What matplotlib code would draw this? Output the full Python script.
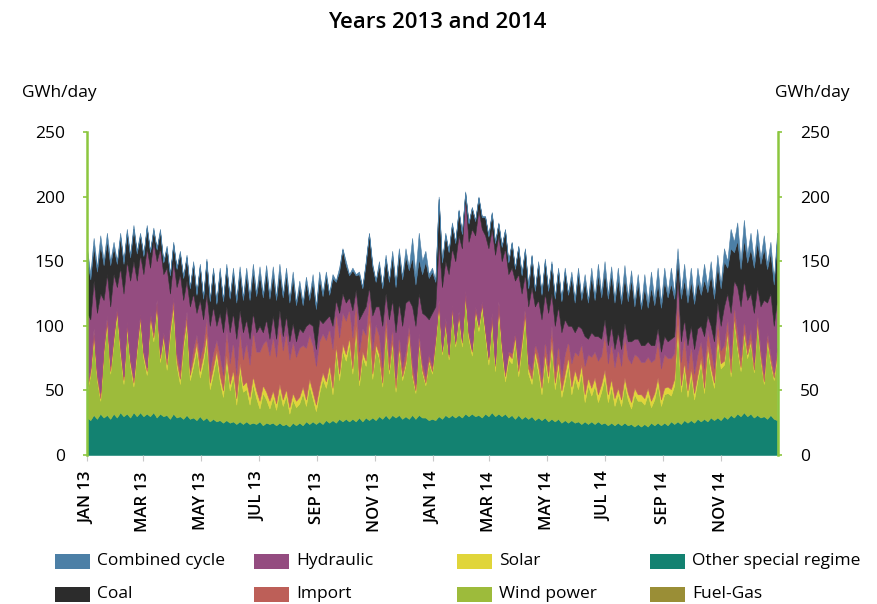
import matplotlib
matplotlib.use("Agg")
import matplotlib.pyplot as plt
import matplotlib.dates as mdates
from matplotlib.patches import Rectangle
from matplotlib.ticker import FuncFormatter
import numpy as np
import pandas as pd

# ---------------- data (GWh/day, two readings per week, Jan 2013 - Dec 2014) -------------
other_special = [
    29,27,31,28,32,29,31,28, 32,29,33,30,32,29,33,30, 33,30,32,30,33,29,32,30,
    31,28,32,29,30,28,31,28, 29,27,30,27,29,26,28,26, 27,25,27,25,26,24,26,24,
    26,24,25,24,26,23,25,24, 25,23,25,23,24,22,25,23, 25,23,26,24,26,24,26,24,
    27,25,27,25,28,26,28,26, 28,26,29,26,29,27,29,27, 30,28,31,28,31,29,31,28,
    30,28,31,28,31,29,29,27, 28,27,30,28,31,29,31,29, 31,29,32,30,32,30,31,29,
    32,30,33,30,32,30,32,29, 31,28,31,28,30,28,30,27, 29,27,29,26,28,26,28,25,
    27,25,27,25,26,24,26,24, 26,24,26,24,25,23,25,23, 25,23,25,23,24,22,24,22,
    24,22,25,23,25,23,25,23, 26,24,26,24,27,25,27,25, 28,26,28,26,29,27,29,27,
    30,28,31,29,32,30,33,30, 32,29,31,29,30,28,31,28, 27]
wind = [
    20,35,60,30,10,50,70,35, 55,80,45,25,65,40,20,50, 70,45,30,75,55,85,40,60,
    35,65,80,40,25,55,70,30, 40,55,30,45,60,25,35,50, 30,20,45,25,35,15,40,25,
    25,15,30,20,10,25,18,12, 20,12,25,15,22,10,18,14, 15,25,12,30,18,10,22,35,
    25,40,20,55,30,55,45,60, 35,70,25,50,40,75,30,55, 45,25,65,35,55,20,50,30,
    40,65,30,20,55,35,25,45, 35,60,85,50,70,45,80,55, 75,55,90,60,45,80,65,85,
    60,40,70,35,80,50,25,45, 40,60,30,55,75,35,25,50, 35,20,45,30,55,25,40,20,
    30,45,20,35,25,40,15,30, 20,30,15,25,35,18,28,15, 22,15,30,20,12,25,18,20,
    15,25,12,20,30,15,22,25, 20,30,70,25,40,20,35,18, 30,45,20,55,35,25,60,40,
    40,65,30,75,50,35,60,45, 55,35,70,45,25,60,40,30, 50]
solar = [
    2,2,2,2,2,2,2,2, 3,3,3,3,3,3,3,3, 3,3,3,3,3,3,3,3,
    4,4,4,4,4,4,4,4, 5,5,5,5,5,5,5,5, 5,5,5,5,5,5,5,5,
    6,6,6,6,6,6,6,6, 5,5,5,5,5,5,5,5, 5,5,5,5,5,5,5,5,
    5,5,5,5,5,5,5,5, 4,4,4,4,4,4,4,4, 3,3,3,3,3,3,3,3,
    2,2,2,2,2,2,2,2, 2,2,2,2,2,2,2,2, 3,3,3,3,3,3,3,3,
    4,4,4,4,4,4,4,4, 4,4,4,4,4,4,4,4, 5,5,5,5,5,5,5,5,
    6,6,6,6,6,6,6,6, 6,6,6,6,6,6,6,6, 5,5,5,5,5,5,5,5,
    5,5,5,5,5,5,5,5, 5,5,5,5,5,5,5,5, 4,4,4,4,4,4,4,4,
    3,3,3,3,3,3,3,3, 2,2,2,2,2,2,2,2, 2]
imports = [
    4,3,5,3,4,3,5,4, 3,2,4,3,3,2,4,3, 3,2,3,2,4,3,3,2,
    5,4,6,5,7,5,6,4, 8,6,10,8,12,9,11,8, 15,12,20,16,22,18,25,20,
    30,25,35,30,38,32,40,35, 42,36,45,38,44,37,40,34, 38,32,40,34,36,30,35,30,
    32,28,30,26,28,24,26,22, 24,20,22,18,20,16,18,15, 14,12,12,10,10,8,9,7,
    8,6,7,5,6,5,5,4, 4,3,3,2,3,2,3,2, 2,2,2,2,2,2,2,2,
    2,2,3,2,3,2,3,2, 4,3,5,4,6,4,7,5, 9,7,10,8,12,9,13,10,
    15,12,18,14,20,16,22,18, 24,20,26,22,28,24,28,24, 30,26,32,27,30,26,29,25,
    28,24,30,26,28,24,26,22, 24,20,22,18,20,16,18,15, 16,13,15,12,14,11,13,10,
    12,10,11,9,10,8,9,7, 8,6,7,5,6,5,5,4, 4]
hydraulic = [
    55,38,37,47,77,36,32,46, 47,16,60,64,47,61,90,49, 46,60,92,35,70,30,82,45,
    70,24,28,52,74,28,24,49, 43,17,45,20,19,35,36,11, 33,33,18,24,22,28,16,21,
    18,20,14,15,20,9,16,13, 16,14,12,11,13,14,14,12, 15,10,17,9,15,13,17,8,
    16,10,18,9,19,15,14,9, 21,8,25,12,22,8,27,14, 23,32,14,29,21,35,25,32,
    38,19,45,45,31,39,47,27, 41,23,45,48,44,62,44,62, 59,71,73,70,93,55,89,56,
    72,84,65,84,51,64,96,60, 66,40,70,34,25,44,64,29, 42,46,36,41,25,35,29,35,
    27,12,29,15,23,12,23,12, 19,12,19,13,11,14,13,14, 13,13,10,13,17,12,14,13,
    13,12,13,11,10,13,14,13, 15,13,17,16,13,19,15,19, 20,12,25,11,18,21,12,19,
    30,19,35,19,35,39,30,35, 28,38,20,34,57,23,47,36, 37]
coal = [
    42,31,27,32,38,27,26,32, 21,18,24,23,22,18,25,21, 15,14,16,12,9,9,13,9,
    15,14,13,14,16,17,18,14, 23,14,26,16,25,19,28,17, 32,24,30,26,31,28,30,25,
    35,30,32,28,40,27,37,31, 32,30,30,30,32,30,35,28, 33,21,34,18,35,31,32,21,
    34,16,37,14,32,34,29,17, 31,11,35,19,33,41,38,19, 32,29,27,29,34,35,38,36,
    36,23,38,32,27,30,42,32, 32,19,33,19,20,17,18,14, 19,11,3,14,16,11,9,9,
    14,9,12,9,9,11,14,9, 19,9,21,14,19,14,24,12, 28,19,25,17,23,21,28,24,
    37,24,38,23,41,22,43,28, 44,28,48,32,37,36,40,36, 42,35,36,31,48,25,44,28,
    45,26,45,31,35,34,43,34, 43,29,12,33,31,33,35,35, 37,24,44,18,40,33,29,29,
    35,20,50,22,36,29,32,29, 35,35,35,33,40,26,32,32, 47]
combined_cycle = [
    8,4,6,3,7,3,6,3, 4,2,3,2,3,2,3,2, 2,1,2,1,2,1,2,1,
    2,1,2,1,2,1,2,1, 2,1,2,1,2,1,2,1, 3,1,3,1,4,2,4,2,
    5,2,6,2,6,2,5,2, 6,2,6,2,5,2,5,2, 4,2,4,2,5,2,5,2,
    3,1,3,1,3,1,3,1, 2,1,2,1,2,1,2,1, 3,1,3,1,4,2,4,2,
    6,2,15,8,20,10,8,3, 3,1,2,1,2,1,2,1, 1,1,1,1,1,1,1,1,
    1,1,1,1,1,1,1,1, 1,1,1,1,1,1,1,1, 2,1,2,1,2,1,2,1,
    3,1,4,2,4,2,5,2, 6,2,8,3,8,3,6,2, 8,3,9,3,7,3,6,2,
    10,4,12,4,12,4,10,3, 12,4,8,4,12,4,10,3, 10,4,12,4,10,4,8,3,
    10,5,15,8,14,6,15,6, 12,5,10,4,10,4,8,3, 5]

legend_labels = ["Combined cycle", "Coal", "Hydraulic", "Import",
                 "Solar", "Wind power", "Other special regime", "Fuel-Gas"]
tick_months = [1, 3, 5, 7, 9, 11]
y_ticks = [0, 50, 100, 150, 200, 250]

# ---------------- style ----------------
FONT = "Open Sans"
plt.rcParams["font.family"] = [FONT, "DejaVu Sans"]
col = {
    "Combined cycle": "#4c7fa6",
    "Coal": "#2c2c2c",
    "Hydraulic": "#944c80",
    "Import": "#bd5f58",
    "Solar": "#e0d53a",
    "Wind power": "#9dbb3b",
    "Other special regime": "#138271",
    "Fuel-Gas": "#9a8e36",
}
green_axis = "#8cc63f"

W, H = 877, 604
fig = plt.figure(figsize=(W / 100, H / 100), dpi=100)
ax = fig.add_axes([87 / W, 1 - 455 / H, (778 - 87) / W, (455 - 132) / H])

dates = pd.Timestamp("2013-01-01") + pd.to_timedelta(np.arange(len(wind)) * 3.5, unit="D")
series = [other_special, wind, solar, imports, hydraulic, coal, combined_cycle]
names = ["Other special regime", "Wind power", "Solar", "Import",
         "Hydraulic", "Coal", "Combined cycle"]
polys = ax.stackplot(dates, *series, colors=[col[n] for n in names])
for p, n in zip(polys, names):
    p.set_edgecolor(col[n])
    p.set_linewidth(0.4)

ax.set_xlim(pd.Timestamp("2013-01-01"), pd.Timestamp("2014-12-31"))
ax.set_ylim(0, 250)

ax.xaxis.set_major_locator(mdates.MonthLocator(bymonth=tick_months))
ax.xaxis.set_major_formatter(FuncFormatter(
    lambda v, pos: mdates.num2date(v).strftime("%b %y").upper()))
ax.tick_params(axis="x", length=4, width=0.8, color="#c8c8c8", pad=8,
               labelsize=12, labelrotation=90)
for lab in ax.get_xticklabels():
    lab.set_fontweight("semibold")
    lab.set_va("top")

ax.set_yticks(y_ticks)
ax.tick_params(axis="y", left=True, right=True, labelleft=True, labelright=True,
               length=3, width=1.2, color=green_axis, labelsize=12.5, pad=13)

for s in ["top", "bottom"]:
    ax.spines[s].set_visible(False)
for s in ["left", "right"]:
    ax.spines[s].set_color(green_axis)
    ax.spines[s].set_linewidth(1.8)

# titles / units
fig.text(437 / W, 1 - 22 / H, "Years 2013 and 2014", ha="center", va="center",
         fontsize=16, fontweight="semibold")
fig.text(22 / W, 1 - 93 / H, "GWh/day", ha="left", va="center", fontsize=12.5)
fig.text(775 / W, 1 - 93 / H, "GWh/day", ha="left", va="center", fontsize=12.5)

# legend (manual grid)
leg_pos = [(55, 561), (55, 594), (254, 561), (254, 594),
           (457, 561), (457, 594), (650, 561), (650, 594)]
for lab, (x0, yc) in zip(legend_labels, leg_pos):
    fig.add_artist(Rectangle((x0 / W, 1 - (yc + 7.5) / H), 35 / W, 15 / H,
                             transform=fig.transFigure, color=col[lab], lw=0))
    fig.text((x0 + 42) / W, 1 - yc / H, lab, ha="left", va="center", fontsize=12.5)

fig.savefig("out.png", dpi=100)
